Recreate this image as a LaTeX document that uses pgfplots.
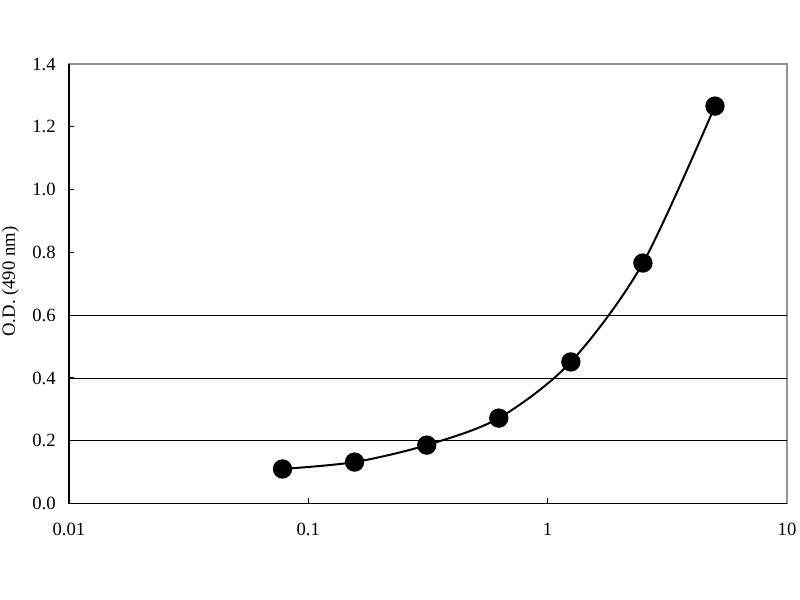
\documentclass[border=0pt]{standalone}
\usepackage{pgfplots}
\pgfplotsset{compat=1.18}
\usepackage{fontspec}
\setmainfont{Liberation Serif}
\begin{document}
\begin{tikzpicture}[x=0.75pt,y=0.75pt]
\useasboundingbox (-69,-96.5) rectangle (731,503.5);
\begin{axis}[
  at={(0,0)}, anchor=south west,
  scale only axis,
  width=538.5pt, height=329.6pt,
  xmode=log, xmin=0.01, xmax=10, ymin=0, ymax=1.4,
  xtick={0.01,0.1,1,10}, xticklabels={0.01,0.1,1,10},
  ytick={0,0.2,...,1.4},
  minor x tick style={draw=none},
  extra y ticks={0.2,0.4,0.6}, extra y tick labels={},
  extra y tick style={grid=major, major grid style={black, line width=0.6pt}, tick style={draw=none}},
  y tick label style={/pgf/number format/fixed, /pgf/number format/fixed zerofill, /pgf/number format/precision=1},
  /pgf/number format/assume math mode=true,
  ticklabel style={font=\fontsize{14}{16}\selectfont},
  tick align=inside, xtick pos=bottom, ytick pos=left,
  major tick length=4pt,
  tick style={black, line width=0.8pt},
  axis line style={draw=gray!85, line width=1.2pt},
  xticklabel style={yshift=-11.5pt},
  yticklabel style={xshift=-6.5pt},
  ylabel={O.D. (490 nm)},
  ylabel style={font=\fontsize{14}{16}\selectfont, at={(rel axis cs:0,0.505)}, anchor=center, yshift=44pt},
  clip=false,
]
\draw[black, line width=1.3pt] (rel axis cs:0,1) -- (rel axis cs:0,0) -- (rel axis cs:1,0);
\addplot[black, line width=1.5pt, smooth, mark=*, mark size=6.5pt, mark options={fill=black}]
  coordinates {(0.078,0.110) (0.156,0.132) (0.3125,0.186) (0.625,0.272) (1.25,0.451) (2.5,0.766) (5,1.266)};
\end{axis}
\end{tikzpicture}
\end{document}
